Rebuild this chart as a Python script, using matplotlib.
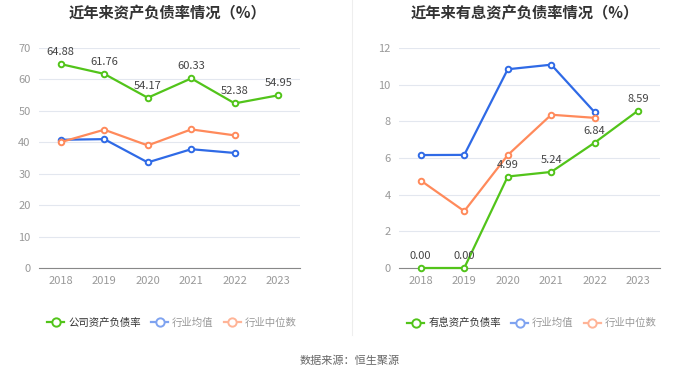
import matplotlib
matplotlib.use("Agg")
import matplotlib.pyplot as plt
from matplotlib.lines import Line2D

plt.rcParams['font.family'] = ['Noto Sans CJK SC', 'DejaVu Sans']

years = ['2018', '2019', '2020', '2021', '2022', '2023']

# Left chart: asset-liability ratio
company_debt = [64.88, 61.76, 54.17, 60.33, 52.38, 54.95]
industry_avg_debt = [40.8, 41.0, 33.6, 37.8, 36.6]
industry_med_debt = [40.05, 44.0, 39.0, 44.1, 42.2]

# Right chart: interest-bearing asset-liability ratio
company_int = [0.00, 0.00, 4.99, 5.24, 6.84, 8.59]
industry_avg_int = [6.16, 6.17, 10.84, 11.09, 8.49]
industry_med_int = [4.77, 3.10, 6.16, 8.36, 8.19]

left_title = '近年来资产负债率情况（%）'
right_title = '近年来有息资产负债率情况（%）'
left_legend = ['公司资产负债率', '行业均值', '行业中位数']
right_legend = ['有息资产负债率', '行业均值', '行业中位数']
source = '数据来源：恒生聚源'

GREEN = '#52c41a'
BLUE = '#2f6ae6'
ORANGE = '#ff8a5b'
BLUE_L = '#7fa3f0'
ORANGE_L = '#ffb497'

W, H = 700, 378
fig = plt.figure(figsize=(W / 100, H / 100), dpi=100)


def px_axes(x0, x1, ytop, ybot):
    return fig.add_axes([x0 / W, 1 - ybot / H, (x1 - x0) / W, (ybot - ytop) / H])


def draw(ax, comp, avg, med, ymax, step, fmt):
    x = list(range(len(years)))
    for series, col in ((avg, BLUE), (med, ORANGE), (comp, GREEN)):
        ax.plot(x[:len(series)], series, color=col, lw=1.6, marker='o', ms=4,
                mfc='white', mew=1.4, mec=col, zorder=3, clip_on=False)
    for xi, v in zip(x, comp):
        ax.annotate(fmt.format(v), (xi, v), xytext=(0, 5), textcoords='offset points',
                    ha='center', va='bottom', fontsize=8, color='#444444', zorder=4)
    ax.set_xlim(-0.5, len(years) - 0.5)
    ax.set_ylim(0, ymax)
    ax.set_yticks(range(0, ymax + 1, step))
    ax.set_xticks(x)
    ax.set_xticklabels(years)
    ax.grid(axis='y', color='#e3e7ef', lw=0.8)
    ax.set_axisbelow(True)
    for s in ('top', 'right', 'left'):
        ax.spines[s].set_visible(False)
    ax.spines['bottom'].set_color('#888888')
    ax.tick_params(axis='both', length=0, labelsize=8, colors='#999999', pad=6)


axL = px_axes(39, 300, 48, 268)
draw(axL, company_debt, industry_avg_debt, industry_med_debt, 70, 10, '{:.2f}')
axR = px_axes(399, 660, 48, 268)
draw(axR, company_int, industry_avg_int, industry_med_int, 12, 2, '{:.2f}')

fig.text(167 / W, 1 - 13 / H, left_title, ha='center', va='center', fontsize=11,
         fontweight='bold', color='#333333')
fig.text(525 / W, 1 - 13 / H, right_title, ha='center', va='center', fontsize=11,
         fontweight='bold', color='#333333')


def legend(labels, cx):
    handles = [
        Line2D([], [], color=GREEN, lw=1.6, marker='o', ms=6, mfc='white', mew=1.4),
        Line2D([], [], color=BLUE_L, lw=1.6, marker='o', ms=6, mfc='white', mew=1.4),
        Line2D([], [], color=ORANGE_L, lw=1.6, marker='o', ms=6, mfc='white', mew=1.4),
    ]
    leg = fig.legend(handles, labels, loc='center', bbox_to_anchor=(cx / W, 1 - 323 / H),
                     ncol=3, frameon=False, fontsize=7.5, handlelength=1.6,
                     handletextpad=0.4, columnspacing=1.0)
    for i, t in enumerate(leg.get_texts()):
        t.set_color('#333333' if i == 0 else '#999999')


legend(left_legend, 172)
legend(right_legend, 532)

fig.add_artist(Line2D([352 / W, 352 / W], [1 - 335 / H, 1.0], color='#eeeeee', lw=0.8))

fig.text(350 / W, 1 - 361 / H, source, ha='center', va='center', fontsize=8, color='#666666')

fig.savefig('out.png', dpi=100, facecolor='white')
